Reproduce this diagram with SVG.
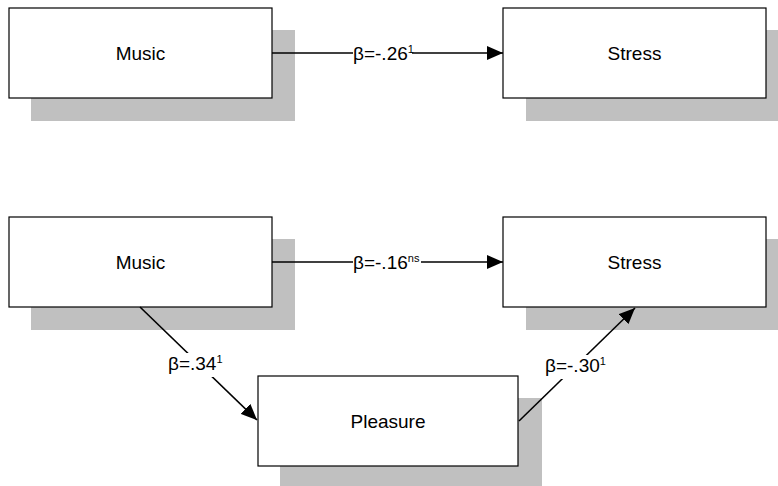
<svg xmlns="http://www.w3.org/2000/svg" width="778" height="486" viewBox="0 0 778 486">
<style>
.shadow{fill:#c0c0c0;stroke:none}
.box{fill:#fff;stroke:#000;stroke-width:1.2}
.lbl{font-family:"Liberation Sans",Arial,sans-serif;font-size:19px;fill:#000;text-anchor:middle}
.beta{font-family:"Liberation Sans",Arial,sans-serif;font-size:19px;fill:#000}
.sup{font-size:11px}
.edge{stroke:#000;stroke-width:1.6;fill:none;marker-end:url(#ah)}
.bg{fill:#fff}
</style>
<defs>
<marker id="ah" markerUnits="userSpaceOnUse" markerWidth="18" markerHeight="14" refX="16" refY="7" orient="auto">
<path d="M0,0 L16,7 L0,14 Z" fill="#000"/>
</marker>
</defs>
<g id="music1">
<rect class="shadow" x="31" y="30" width="264" height="91"/>
<rect class="box" x="9" y="8" width="263" height="90"/>
<text class="lbl" x="140.5" y="59.5">Music</text>
</g>
<g id="stress1">
<rect class="shadow" x="526" y="30" width="260" height="91"/>
<rect class="box" x="503" y="8" width="263" height="90"/>
<text class="lbl" x="634.5" y="59.5">Stress</text>
</g>
<g id="music2">
<rect class="shadow" x="31" y="239" width="264" height="91"/>
<rect class="box" x="9" y="217" width="263" height="90"/>
<text class="lbl" x="140.5" y="268.5">Music</text>
</g>
<g id="stress2">
<rect class="shadow" x="526" y="239" width="260" height="91"/>
<rect class="box" x="503" y="217" width="263" height="90"/>
<text class="lbl" x="634.5" y="268.5">Stress</text>
</g>
<g id="pleasure">
<rect class="shadow" x="280" y="398" width="262" height="91"/>
<rect class="box" x="258" y="376" width="260" height="90"/>
<text class="lbl" x="388" y="427.5">Pleasure</text>
</g>
<g id="connectors">
<line class="edge" x1="272" y1="53" x2="503" y2="53"/>
<rect class="bg" x="353" y="42" width="59" height="20"/>
<text class="beta" x="353" y="60">β=-.26<tspan class="sup" dy="-7">1</tspan></text>
<line class="edge" x1="272" y1="262" x2="503" y2="262"/>
<rect class="bg" x="353" y="251" width="68" height="20"/>
<text class="beta" x="353" y="269">β=-.16<tspan class="sup" dy="-7">ns</tspan></text>
<line class="edge" x1="140" y1="307" x2="257" y2="420"/>
<rect class="bg" x="166" y="353" width="66" height="24"/>
<text class="beta" x="168" y="370">β=.34<tspan class="sup" dy="-7">1</tspan></text>
<line class="edge" x1="519" y1="421" x2="635" y2="308"/>
<rect class="bg" x="543" y="355" width="68" height="24"/>
<text class="beta" x="545" y="372">β=-.30<tspan class="sup" dy="-7">1</tspan></text>
</g>
</svg>
